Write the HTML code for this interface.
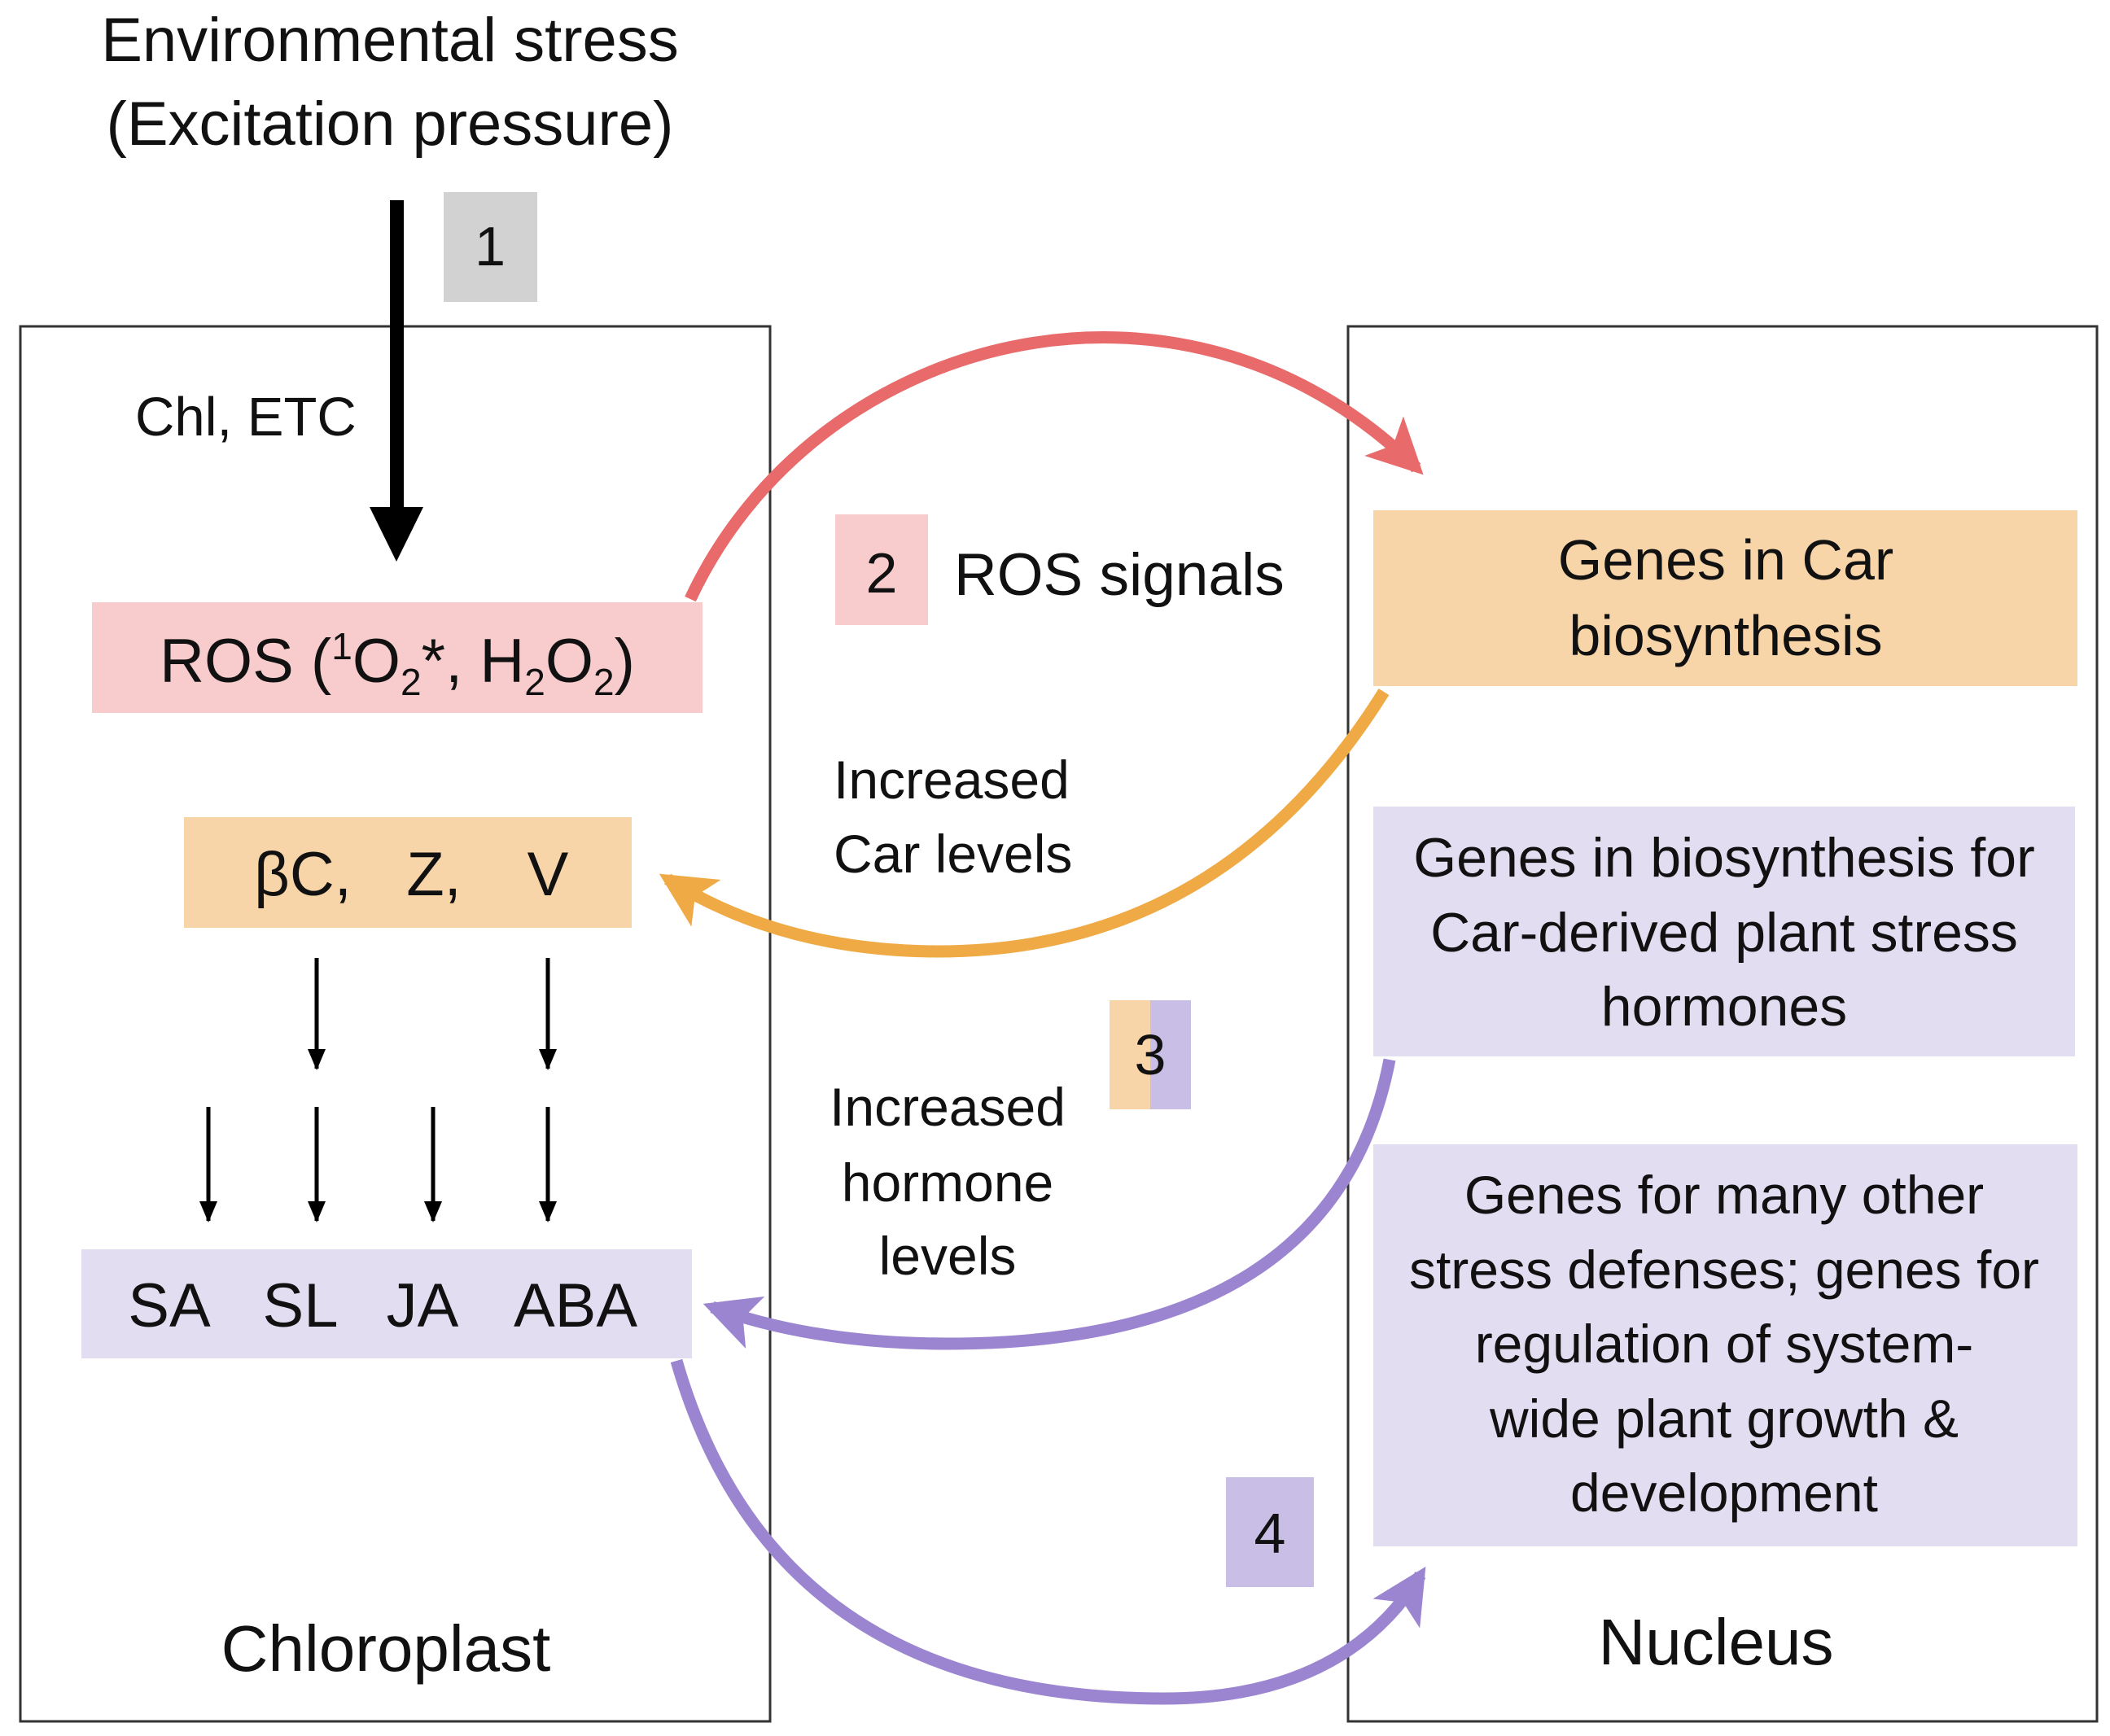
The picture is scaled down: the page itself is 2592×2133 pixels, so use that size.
<!DOCTYPE html>
<html><head><meta charset="utf-8"><style>
body{margin:0;background:#fff}
svg text{font-family:"Liberation Sans",sans-serif;fill:#111}
</style></head><body>
<svg width="2592" height="2128" viewBox="0 0 2592 2128" xmlns="http://www.w3.org/2000/svg">
<defs>
<marker id="mr" markerUnits="userSpaceOnUse" markerWidth="90" markerHeight="90" refX="56" refY="34" orient="auto"><path d="M0,0 L68,34 L0,68 L16,34 Z" fill="#e86a6a"/></marker>
<marker id="mo" markerUnits="userSpaceOnUse" markerWidth="90" markerHeight="90" refX="56" refY="34" orient="auto"><path d="M0,0 L68,34 L0,68 L16,34 Z" fill="#efaa45"/></marker>
<marker id="mp" markerUnits="userSpaceOnUse" markerWidth="90" markerHeight="90" refX="56" refY="34" orient="auto"><path d="M0,0 L68,34 L0,68 L16,34 Z" fill="#9b85d0"/></marker>
<marker id="mk" markerUnits="userSpaceOnUse" markerWidth="30" markerHeight="30" refX="24" refY="11" orient="auto"><path d="M0,0 L26,11 L0,22 Z" fill="#000"/></marker>
</defs>
<rect x="25" y="401" width="921" height="1714" fill="none" stroke="#333" stroke-width="3"/>
<rect x="1656" y="401" width="920" height="1714" fill="none" stroke="#333" stroke-width="3"/>
<text x="479" y="75" font-size="76" text-anchor="middle">Environmental stress</text>
<text x="479" y="178" font-size="76" text-anchor="middle">(Excitation pressure)</text>
<rect x="545" y="236" width="115" height="135" fill="#d2d2d2"/>
<text x="602" y="326" font-size="68" text-anchor="middle">1</text>
<rect x="479" y="246" width="17" height="390" fill="#000"/>
<path d="M454,623 L520,623 L487,690 Z" fill="#000"/>
<text x="166" y="535" font-size="67">Chl, ETC</text>
<rect x="113" y="740" width="750" height="136" fill="#f8cccc"/>
<text x="488" y="838" font-size="76" text-anchor="middle">ROS (<tspan font-size="46" dy="-28">1</tspan><tspan dy="28">O</tspan><tspan font-size="46" dy="16">2</tspan><tspan dy="-16">*, H</tspan><tspan font-size="46" dy="16">2</tspan><tspan dy="-16">O</tspan><tspan font-size="46" dy="16">2</tspan><tspan dy="-16">)</tspan></text>
<rect x="226" y="1004" width="550" height="136" fill="#f8d5a8"/>
<text x="372" y="1100" font-size="76" text-anchor="middle">βC,</text>
<text x="533" y="1100" font-size="76" text-anchor="middle">Z,</text>
<text x="673" y="1100" font-size="76" text-anchor="middle">V</text>
<g stroke="#000" stroke-width="5" marker-end="url(#mk)">
<line x1="389" y1="1177" x2="389" y2="1313"/><line x1="673" y1="1177" x2="673" y2="1313"/>
<line x1="256" y1="1360" x2="256" y2="1500"/><line x1="389" y1="1360" x2="389" y2="1500"/>
<line x1="532" y1="1360" x2="532" y2="1500"/><line x1="673" y1="1360" x2="673" y2="1500"/>
</g>
<rect x="100" y="1535" width="750" height="134" fill="#e3ddf2"/>
<text x="208" y="1630" font-size="76" text-anchor="middle">SA</text>
<text x="369" y="1630" font-size="76" text-anchor="middle">SL</text>
<text x="519" y="1630" font-size="76" text-anchor="middle">JA</text>
<text x="707" y="1630" font-size="76" text-anchor="middle">ABA</text>
<text x="474" y="2053" font-size="80" text-anchor="middle">Chloroplast</text>
<text x="2108" y="2045" font-size="80" text-anchor="middle">Nucleus</text>
<rect x="1026" y="632" width="114" height="136" fill="#f8cccc"/>
<text x="1083" y="728" font-size="70" text-anchor="middle">2</text>
<text x="1172" y="731" font-size="73">ROS signals</text>
<text x="1024" y="981" font-size="66">Increased</text>
<text x="1024" y="1072" font-size="66">Car levels</text>
<rect x="1363" y="1229" width="50" height="134" fill="#f8d5a8"/>
<rect x="1413" y="1229" width="50" height="134" fill="#c9bfe6"/>
<text x="1413" y="1320" font-size="70" text-anchor="middle">3</text>
<text x="1164" y="1383" font-size="66" text-anchor="middle">Increased</text>
<text x="1164" y="1476" font-size="66" text-anchor="middle">hormone</text>
<text x="1164" y="1566" font-size="66" text-anchor="middle">levels</text>
<rect x="1506" y="1815" width="108" height="135" fill="#c9bfe6"/>
<text x="1560" y="1908" font-size="70" text-anchor="middle">4</text>
<rect x="1687" y="627" width="865" height="216" fill="#f8d5a8"/>
<text x="2120" y="712" font-size="70" text-anchor="middle">Genes in Car</text>
<text x="2120" y="805" font-size="70" text-anchor="middle">biosynthesis</text>
<rect x="1687" y="991" width="862" height="307" fill="#e3ddf2"/>
<text x="2118" y="1077" font-size="68" text-anchor="middle">Genes in biosynthesis for</text>
<text x="2118" y="1169" font-size="68" text-anchor="middle">Car-derived plant stress</text>
<text x="2118" y="1260" font-size="68" text-anchor="middle">hormones</text>
<rect x="1687" y="1406" width="865" height="494" fill="#e3ddf2"/>
<text x="2118" y="1491" font-size="66" text-anchor="middle">Genes for many other</text>
<text x="2118" y="1583" font-size="66" text-anchor="middle">stress defenses; genes for</text>
<text x="2118" y="1674" font-size="66" text-anchor="middle">regulation of system-</text>
<text x="2118" y="1766" font-size="66" text-anchor="middle">wide plant growth &amp;</text>
<text x="2118" y="1857" font-size="66" text-anchor="middle">development</text>
<g fill="none" stroke-width="15">
<path d="M848,736 C1000,410 1450,290 1740,575" stroke="#e86a6a" marker-end="url(#mr)"/>
<path d="M1700,850 Q1500,1170 1150,1169 Q960,1168 820,1080" stroke="#efaa45" marker-end="url(#mo)"/>
<path d="M1707,1302 Q1640,1651 1164,1651 Q1000,1651 875,1606" stroke="#9b85d0" marker-end="url(#mp)"/>
<path d="M831,1672 Q950,2087 1430,2087 Q1650,2087 1745,1935" stroke="#9b85d0" marker-end="url(#mp)"/>
</g>
</svg>
</body></html>
